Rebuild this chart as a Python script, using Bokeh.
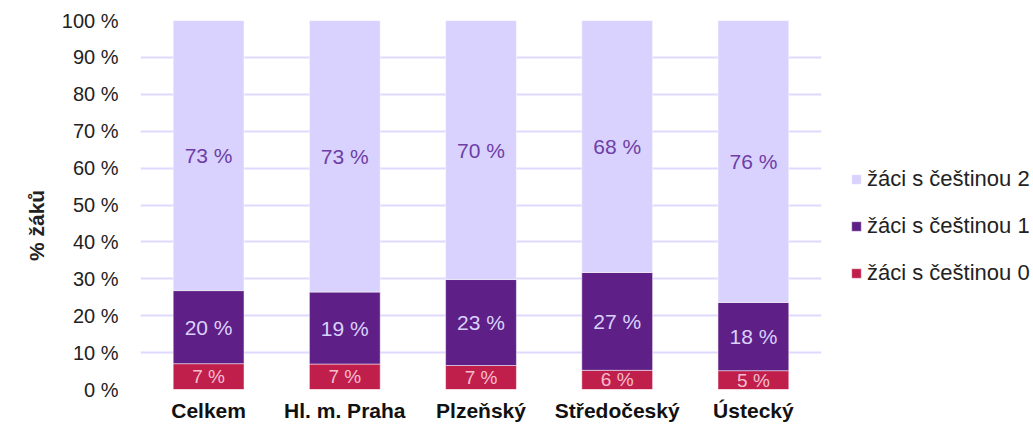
from bokeh.plotting import figure
from bokeh.models import ColumnDataSource, FactorRange, Range1d, FixedTicker, Legend, LegendItem
from bokeh.core.properties import value
from bokeh.embed import file_html
from bokeh.resources import INLINE

categories = ["Celkem", "Hl. m. Praha", "Plzeňský", "Středočeský", "Ústecký"]
series_names = ["žáci s češtinou 0", "žáci s češtinou 1", "žáci s češtinou 2"]
cestina0 = [7.0, 6.9, 6.5, 5.2, 5.1]
cestina1 = [19.8, 19.5, 23.3, 26.5, 18.5]
cestina2 = [73.2, 73.6, 70.2, 68.3, 76.4]
labels0 = ["7 %", "7 %", "7 %", "6 %", "5 %"]
labels1 = ["20 %", "19 %", "23 %", "27 %", "18 %"]
labels2 = ["73 %", "73 %", "70 %", "68 %", "76 %"]
y_ticks = [0, 10, 20, 30, 40, 50, 60, 70, 80, 90, 100]

colors = ["#C01F4C", "#5E1F86", "#D9D2FE"]
label_colors = ["#F7BDCD", "#D9D2FE", "#6E3EA6"]
FONT = "Liberation Sans"

src = ColumnDataSource(dict(cat=categories, s0=cestina0, s1=cestina1, s2=cestina2))

p = figure(x_range=FactorRange(*categories, range_padding=0), y_range=Range1d(0, 100),
           frame_width=681, frame_height=369, output_backend="svg", toolbar_location=None,
           min_border_left=140, min_border_right=210, min_border_top=20, min_border_bottom=34)

rs = p.vbar_stack(["s0", "s1", "s2"], x="cat", width=0.52, color=colors, source=src,
                  line_color="white", line_width=0.5)

# labels at segment midpoints
mid0, mid1, mid2 = [], [], []
for a, b, c in zip(cestina0, cestina1, cestina2):
    mid0.append(a / 2)
    mid1.append(a + b / 2)
    mid2.append(a + b + c / 2)
for mids, labs, col, size in [(mid0, labels0, label_colors[0], "19px"),
                              (mid1, labels1, label_colors[1], "21px"),
                              (mid2, labels2, label_colors[2], "21px")]:
    ls = ColumnDataSource(dict(x=categories, y=mids, t=labs))
    p.text(x="x", y="y", text="t", source=ls, text_align="center", text_baseline="middle",
           text_color=col, text_font=value(FONT), text_font_size=size)

# grid
p.xgrid.grid_line_color = None
p.ygrid.grid_line_color = "#E0D9FF"
p.ygrid.grid_line_width = 2
p.ygrid.ticker = FixedTicker(ticks=y_ticks)
p.outline_line_color = None

# y axis
p.yaxis.ticker = FixedTicker(ticks=y_ticks)
p.yaxis.major_label_overrides = {t: f"{t} %" for t in y_ticks}
p.yaxis.axis_line_color = None
p.yaxis.major_tick_line_color = None
p.yaxis.minor_tick_line_color = None
p.yaxis.major_tick_out = 0
p.yaxis.major_tick_in = 0
p.yaxis.minor_tick_out = 0
p.yaxis.major_label_standoff = 22
p.yaxis.major_label_text_font = FONT
p.yaxis.major_label_text_font_size = "20px"
p.yaxis.major_label_text_color = "#222222"
p.yaxis.axis_label = "% žáků" + "\u00a0" * 7
p.yaxis.axis_label_text_font = FONT
p.yaxis.axis_label_text_font_size = "21px"
p.yaxis.axis_label_text_font_style = "bold"
p.yaxis.axis_label_text_color = "#222222"
p.yaxis.axis_label_standoff = 11

# x axis
p.xaxis.axis_line_color = None
p.xaxis.major_tick_line_color = None
p.xaxis.minor_tick_line_color = None
p.xaxis.major_tick_out = 0
p.xaxis.major_tick_in = 0
p.xaxis.minor_tick_out = 0
p.xaxis.major_label_standoff = 9
p.xaxis.major_label_text_font = FONT
p.xaxis.major_label_text_font_size = "21px"
p.xaxis.major_label_text_font_style = "bold"
p.xaxis.major_label_text_color = "#111111"

items = [LegendItem(label=series_names[i], renderers=[rs[i]]) for i in [2, 1, 0]]
legend = Legend(items=items, location="center_left", orientation="vertical",
                title=" ", title_text_font_size="10px", title_standoff=31,
                padding=0, margin=29, spacing=21, label_standoff=5,
                glyph_width=12, glyph_height=12, label_height=20,
                label_text_font=FONT, label_text_font_size="22px", label_text_color="#222222",
                border_line_color=None, background_fill_alpha=0)
p.add_layout(legend, "right")

open("out.html", "w").write(file_html(p, INLINE))
